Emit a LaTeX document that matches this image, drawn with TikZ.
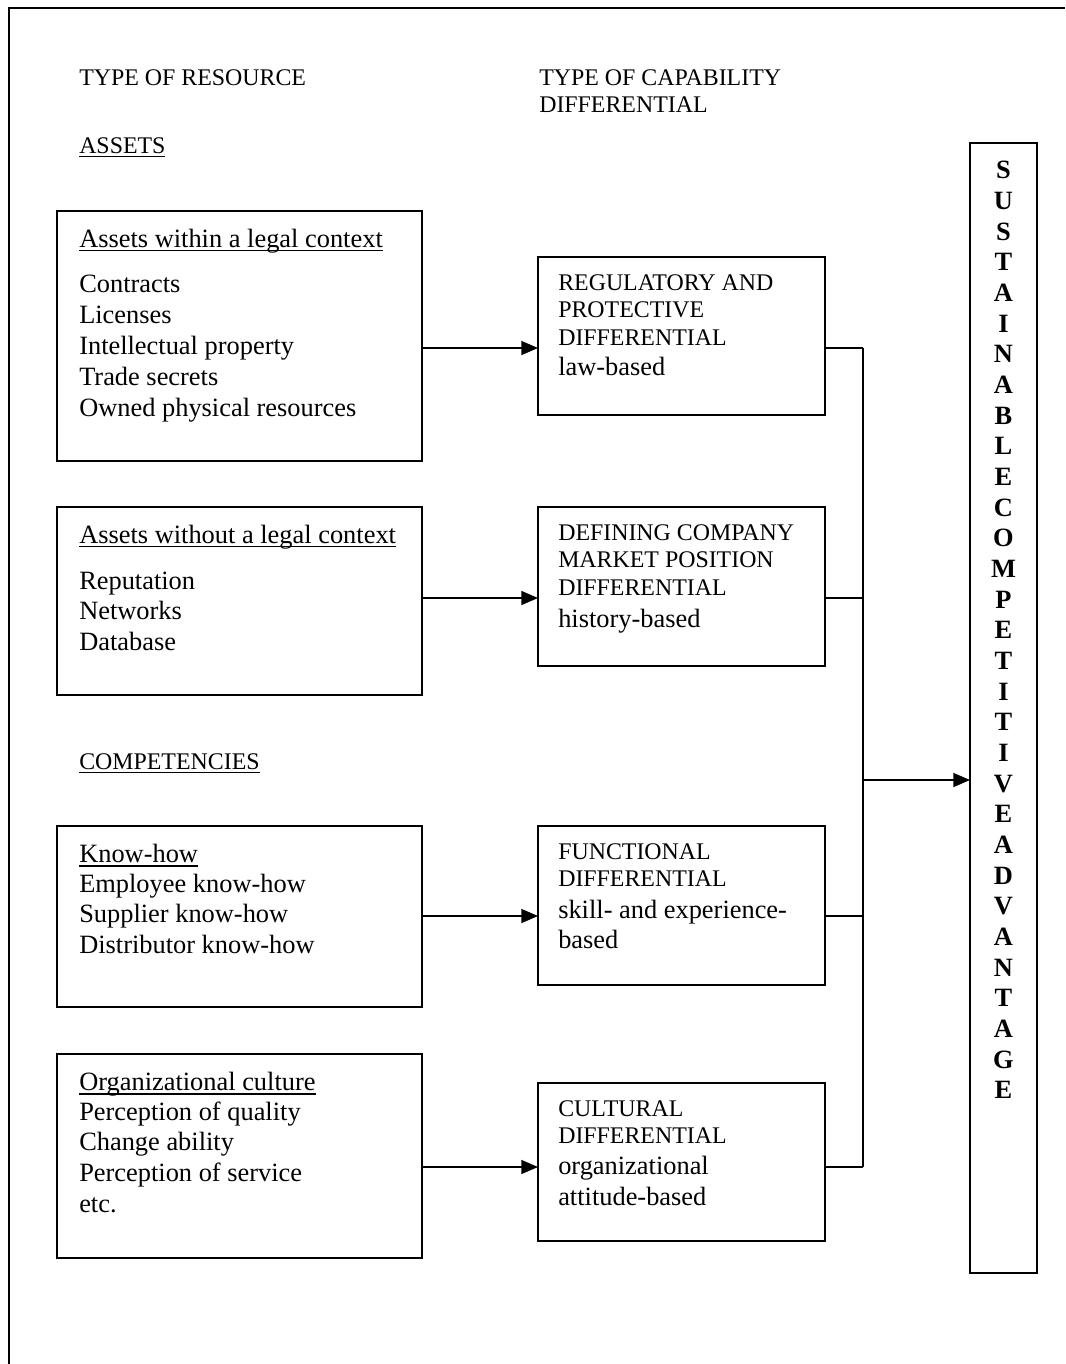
\documentclass[tikz,border=0pt]{standalone}
\usepackage{fontspec}
\setmainfont{Liberation Serif}
\usetikzlibrary{arrows.meta}
% underline at a fixed depth below the baseline
\newcommand\ulbox[1]{\setbox0\hbox{#1}\rlap{\rule[-0.17em]{\wd0}{0.055em}}\box0}
% rectangular panel from (x1,y1) to (x2,y2), coordinates in pixels
\newcommand\panel[5]{\node[box, minimum width={(#4-#2)*0.75pt}, minimum height={(#5-#3)*0.75pt}] (#1) at (#2,#3) {};}
\begin{document}
\begin{tikzpicture}[x=0.75pt,y=-0.75pt,
  box/.style={draw, line width=1.3pt, anchor=north west, inner sep=0pt, outer sep=0pt},
  body/.style={anchor=base west, inner sep=0pt, font=\fontsize{19.8pt}{23pt}\selectfont},
  caps/.style={anchor=base west, inner sep=0pt, font=\fontsize{17.9pt}{20pt}\selectfont},
  letter/.style={anchor=base, inner sep=0pt, font=\fontsize{19.8pt}{23pt}\selectfont\bfseries},
  link/.style={line width=1.1pt},
  arr/.style={link, -{Triangle[length=12.5pt,width=10.5pt]}}]
\useasboundingbox (0,0) rectangle (1065,1364);

% page frame
\draw[line width=1.3pt] (9,1364) -- (9,8) -- (1065,8);

% column headings
\node[caps] (h1) at (79,85) {TYPE OF RESOURCE};
\node[caps] (h2a) at (539,85) {TYPE OF CAPABILITY};
\node[caps] (h2b) at (539,112) {DIFFERENTIAL};
\node[caps] (assets) at (79,153) {\ulbox{ASSETS}};
\node[caps] (comp) at (79,769) {\ulbox{COMPETENCIES}};

% resource panels
\panel{A1}{57}{211}{422}{461}
\panel{A2}{57}{507}{422}{695}
\panel{A3}{57}{826}{422}{1007}
\panel{A4}{57}{1054}{422}{1258}

% capability panels
\panel{M1}{538}{257}{825}{415}
\panel{M2}{538}{507}{825}{666}
\panel{M3}{538}{826}{825}{985}
\panel{M4}{538}{1083}{825}{1241}

% outcome panel
\panel{SCA}{970}{143}{1037}{1273}

% texts of resource panels
\node[body] (a1t) at (79,247) {\ulbox{Assets within a legal context}};
\node[body] (a1a) at (79,292) {Contracts};
\node[body] (a1b) at (79,323) {Licenses};
\node[body] (a1c) at (79,354) {Intellectual property};
\node[body] (a1d) at (79,385) {Trade secrets};
\node[body] (a1e) at (79,416) {Owned physical resources};

\node[body] (a2t) at (79,543) {\ulbox{Assets without a legal context}};
\node[body] (a2a) at (79,589) {Reputation};
\node[body] (a2b) at (79,619) {Networks};
\node[body] (a2c) at (79,650) {Database};

\node[body] (a3t) at (79,862) {\ulbox{Know-how}};
\node[body] (a3a) at (79,892) {Employee know-how};
\node[body] (a3b) at (79,922) {Supplier know-how};
\node[body] (a3c) at (79,953) {Distributor know-how};

\node[body] (a4t) at (79,1090) {\ulbox{Organizational culture}};
\node[body] (a4a) at (79,1120) {Perception of quality};
\node[body] (a4b) at (79,1150) {Change ability};
\node[body] (a4c) at (79,1181) {Perception of service};
\node[body] (a4d) at (79,1212) {etc.};

% texts of capability panels
\node[caps] (m1a) at (558,290) {REGULATORY AND};
\node[caps] (m1b) at (558,317) {PROTECTIVE};
\node[caps] (m1c) at (558,345) {DIFFERENTIAL};
\node[body] (m1d) at (558,375) {law-based};

\node[caps] (m2a) at (558,540) {DEFINING COMPANY};
\node[caps] (m2b) at (558,567) {MARKET POSITION};
\node[caps] (m2c) at (558,595) {DIFFERENTIAL};
\node[body] (m2d) at (558,627) {history-based};

\node[caps] (m3a) at (558,859) {FUNCTIONAL};
\node[caps] (m3b) at (558,886) {DIFFERENTIAL};
\node[body] (m3c) at (558,918) {skill- and experience-};
\node[body] (m3d) at (558,948) {based};

\node[caps] (m4a) at (558,1116) {CULTURAL};
\node[caps] (m4b) at (558,1143) {DIFFERENTIAL};
\node[body] (m4c) at (558,1174) {organizational};
\node[body] (m4d) at (558,1205) {attitude-based};

% vertical lettering of the outcome panel
\foreach \ch [count=\i] in {S,U,S,T,A,I,N,A,B,L,E,C,O,M,P,E,T,I,T,I,V,E,A,D,V,A,N,T,A,G,E}
  \node[letter] (sca\i) at (1003.5,{178.75+(\i-1)*30.667}) {\ch};

% connector rows and the collecting bus
\coordinate (row1) at (0,348);
\coordinate (row2) at (0,598);
\coordinate (row3) at (0,916);
\coordinate (row4) at (0,1167);
\coordinate (rowout) at (0,780);
\coordinate (bus) at (863,0);

\draw[arr] (A1.east |- row1) -- (M1.west |- row1);
\draw[arr] (A2.east |- row2) -- (M2.west |- row2);
\draw[arr] (A3.east |- row3) -- (M3.west |- row3);
\draw[arr] (A4.east |- row4) -- (M4.west |- row4);

\draw[link] (M1.east |- row1) -- (bus |- row1);
\draw[link] (M2.east |- row2) -- (bus |- row2);
\draw[link] (M3.east |- row3) -- (bus |- row3);
\draw[link] (M4.east |- row4) -- (bus |- row4);
\draw[link] (bus |- row1) -- (bus |- row4);
\draw[arr] (bus |- rowout) -- (SCA.west |- rowout);
\end{tikzpicture}
\end{document}
